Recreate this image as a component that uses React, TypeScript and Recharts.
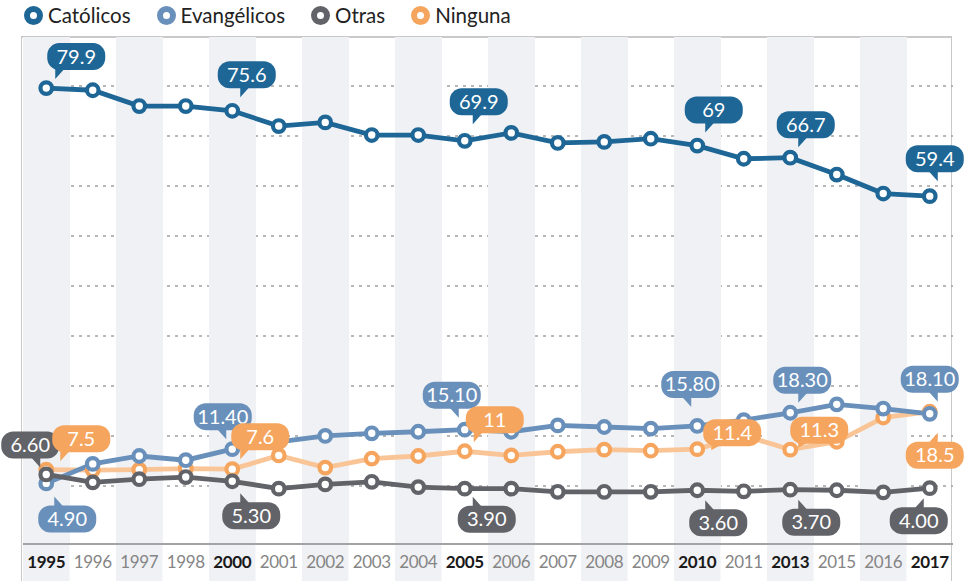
import { Bar, CartesianGrid, ComposedChart, Line, XAxis, YAxis } from 'recharts'

const years = ['1995', '1996', '1997', '1998', '2000', '2001', '2002', '2003', '2004', '2005', '2006', '2007', '2008', '2009', '2010', '2011', '2013', '2015', '2016', '2017']
const boldYears = ['1995', '2000', '2005', '2010', '2013', '2017']

const catolicos = [79.9, 79.5, 76.5, 76.5, 75.6, 72.7, 73.4, 71.0, 71.0, 69.9, 71.4, 69.5, 69.7, 70.3, 69.0, 66.5, 66.7, 63.5, 59.9, 59.4]
const evangelicos = [4.9, 8.6, 10.1, 9.3, 11.4, 12.8, 13.9, 14.4, 14.7, 15.1, 14.7, 15.9, 15.6, 15.3, 15.8, 16.9, 18.3, 19.9, 19.1, 18.1]
const otras = [6.6, 5.1, 5.7, 6.1, 5.3, 3.9, 4.7, 5.2, 4.2, 3.9, 3.9, 3.3, 3.3, 3.3, 3.6, 3.4, 3.7, 3.6, 3.2, 4.0]
const ninguna = [7.5, 7.4, 7.5, 7.7, 7.6, 10.2, 7.9, 9.6, 10.1, 11.0, 10.2, 10.9, 11.3, 11.1, 11.4, 14.0, 11.3, 12.8, 17.4, 18.5]

// callout texts, one per bold year
const catolicosTags = ['79.9', '75.6', '69.9', '69', '66.7', '59.4']
const evangelicosTags = ['4.90', '11.40', '15.10', '15.80', '18.30', '18.10']
const otrasTags = ['6.60', '5.30', '3.90', '3.60', '3.70', '4.00']
const ningunaTags = ['7.5', '7.6', '11', '11.4', '11.3', '18.5']

// callout placement: up/down, horizontal shift of the box, gap between point and box
type Place = { up: boolean; dx: number; gap: number }
const catolicosPlace: Place[] = [
  { up: true, dx: 30, gap: 18 },
  { up: true, dx: 14.5, gap: 22.5 },
  { up: true, dx: 14, gap: 25.5 },
  { up: true, dx: 16.5, gap: 22 },
  { up: true, dx: 15.5, gap: 19.5 },
  { up: true, dx: 5, gap: 24 },
]
const evangelicosPlace: Place[] = [
  { up: false, dx: 21, gap: 22 },
  { up: true, dx: -9.5, gap: 19 },
  { up: true, dx: -13, gap: 21 },
  { up: true, dx: -7, gap: 28 },
  { up: true, dx: 12, gap: 19 },
  { up: true, dx: 0, gap: 21 },
]
const otrasPlace: Place[] = [
  { up: true, dx: -16, gap: 16 },
  { up: false, dx: 19, gap: 21 },
  { up: false, dx: 22, gap: 17 },
  { up: false, dx: 21, gap: 19 },
  { up: false, dx: 21, gap: 19 },
  { up: false, dx: -11, gap: 19 },
]
const ningunaPlace: Place[] = [
  { up: true, dx: 35, gap: 17.5 },
  { up: true, dx: 28, gap: 19 },
  { up: true, dx: 30, gap: 18 },
  { up: true, dx: 35, gap: 3 },
  { up: true, dx: 29, gap: 6 },
  { up: false, dx: 5, gap: 30 },
]

const Y_MIN = -6.6
const Y_MAX = 89.6
const BAND = 930 / years.length
const SHADE = '#f0f1f4'
const FONT = 'Lato, sans-serif'

const C_CAT = '#1d6696'
const C_EVA = '#6990bb'
const C_OTR = '#626368'
const C_NIN = '#f5a55e'
const C_NIN_LINE = '#f9c597'

const tagIndex = boldYears.map((y) => years.indexOf(y))

const data = years.map((year, i) => ({
  year,
  catolicos: catolicos[i],
  evangelicos: evangelicos[i],
  otras: otras[i],
  ninguna: ninguna[i],
  shade: i % 2 === 0 ? [Y_MIN, Y_MAX] : null,
}))

const legend = [
  { name: 'Católicos', color: C_CAT },
  { name: 'Evangélicos', color: C_EVA },
  { name: 'Otras', color: C_OTR },
  { name: 'Ninguna', color: C_NIN },
]

function makeCallout(tags: string[], place: Place[], color: string) {
  return (props: any) => {
    const { x, y, index } = props
    const k = tagIndex.indexOf(index)
    if (k < 0 || x == null || y == null) return <g key={`e${index}`} />
    const W = 58
    const H = 27
    const p = place[k]
    const cx = x + p.dx
    const left = cx - W / 2
    const top = p.up ? y - p.gap - H : y + p.gap
    const edge = p.up ? top + H : top
    const tl = Math.max(4, Math.min(9, p.gap - 7))
    const tipY = p.up ? edge + tl : edge - tl
    const baseY = p.up ? edge - 1 : edge + 1
    let tx = x + (x <= cx ? 8 : -6)
    tx = Math.max(left + 8, Math.min(left + W - 8, tx))
    const s = tx < cx ? 1 : -1
    return (
      <g key={`c${index}`}>
        <path d={`M${tx},${baseY} L${tx + s * 9},${baseY} L${tx},${tipY} Z`} fill={color} />
        <rect x={left} y={top} width={W} height={H} rx={12} ry={12} fill={color} />
        <text
          x={cx}
          y={top + H / 2 + 7}
          textAnchor='middle'
          fill='#ffffff'
          fontFamily={FONT}
          fontSize={20}
        >
          {tags[k]}
        </text>
      </g>
    )
  }
}

function YearTick(props: any) {
  const { x, y, payload, index } = props
  const bold = boldYears.includes(payload.value)
  return (
    <g>
      {index % 2 === 0 && (
        <rect x={x - BAND / 2} y={y + 1} width={BAND} height={40} fill={SHADE} />
      )}
      <text
        x={x}
        y={y + 24}
        textAnchor='middle'
        fontFamily={FONT}
        fontSize={17}
        fontWeight={bold ? 700 : 400}
        letterSpacing={-0.3}
        fill={bold ? '#1a1a1a' : '#858585'}
      >
        {payload.value}
      </text>
    </g>
  )
}

const dot = (color: string) => ({ r: 5.8, strokeWidth: 4.2, fill: '#ffffff', stroke: color })

export default function App() {
  return (
    <div style={{ position: 'absolute', left: 0, top: 0, width: 966, height: 581, background: '#fff', fontFamily: FONT }}>
      <div
        style={{
          position: 'absolute',
          left: 21,
          top: 36,
          width: 931,
          height: 545,
          borderTop: '2px solid #c9c9c9',
          borderLeft: '1.5px solid #c9c9c9',
          borderRight: '1.5px solid #c9c9c9',
          boxSizing: 'border-box',
        }}
      />
      <div style={{ position: 'absolute', left: 24, top: 2, display: 'flex', alignItems: 'center', gap: 26 }}>
        {legend.map((l) => (
          <div key={l.name} style={{ display: 'flex', alignItems: 'center' }}>
            <span
              style={{
                width: 19,
                height: 19,
                borderRadius: '50%',
                boxSizing: 'border-box',
                border: `6.5px solid ${l.color}`,
                background: '#fff',
                marginRight: 5,
              }}
            />
            <span style={{ fontSize: 20.5, color: '#222', lineHeight: '26px' }}>{l.name}</span>
          </div>
        ))}
      </div>
      <div style={{ position: 'absolute', left: 0, top: 0 }}>
        <ComposedChart
          width={966}
          height={581}
          data={data}
          margin={{ top: 37, right: 13, left: 23, bottom: 0 }}
          barCategoryGap={0}
          barGap={0}
        >
          <YAxis hide domain={[Y_MIN, Y_MAX]} allowDataOverflow />
          <XAxis
            dataKey='year'
            interval={0}
            height={37}
            tickSize={0}
            tickMargin={0}
            tickLine={false}
            axisLine={{ stroke: '#a3a3a3', strokeWidth: 2 }}
            tick={<YearTick />}
          />
          <Bar dataKey='shade' fill={SHADE} isAnimationActive={false} />
          <CartesianGrid
            vertical={false}
            stroke='#a0a0a0'
            strokeDasharray='3 5'
            strokeWidth={1.5}
            horizontalCoordinatesGenerator={({ offset }: any) =>
              Array.from({ length: 9 }, (_, i) => offset.top + 49 + 50 * i)
            }
          />
          <Line dataKey='catolicos' stroke={C_CAT} strokeWidth={4.8} dot={dot(C_CAT)} activeDot={false} isAnimationActive={false} />
          <Line dataKey='ninguna' stroke={C_NIN_LINE} strokeWidth={4.8} dot={dot(C_NIN)} activeDot={false} isAnimationActive={false} />
          <Line dataKey='evangelicos' stroke={C_EVA} strokeWidth={4.8} dot={dot(C_EVA)} activeDot={false} isAnimationActive={false} />
          <Line dataKey='otras' stroke={C_OTR} strokeWidth={4.8} dot={dot(C_OTR)} activeDot={false} isAnimationActive={false} />
          <Line dataKey='catolicos' stroke='none' dot={false} activeDot={false} legendType='none' isAnimationActive={false} label={makeCallout(catolicosTags, catolicosPlace, C_CAT)} />
          <Line dataKey='evangelicos' stroke='none' dot={false} activeDot={false} legendType='none' isAnimationActive={false} label={makeCallout(evangelicosTags, evangelicosPlace, C_EVA)} />
          <Line dataKey='otras' stroke='none' dot={false} activeDot={false} legendType='none' isAnimationActive={false} label={makeCallout(otrasTags, otrasPlace, C_OTR)} />
          <Line dataKey='ninguna' stroke='none' dot={false} activeDot={false} legendType='none' isAnimationActive={false} label={makeCallout(ningunaTags, ningunaPlace, C_NIN)} />
        </ComposedChart>
      </div>
    </div>
  )
}
